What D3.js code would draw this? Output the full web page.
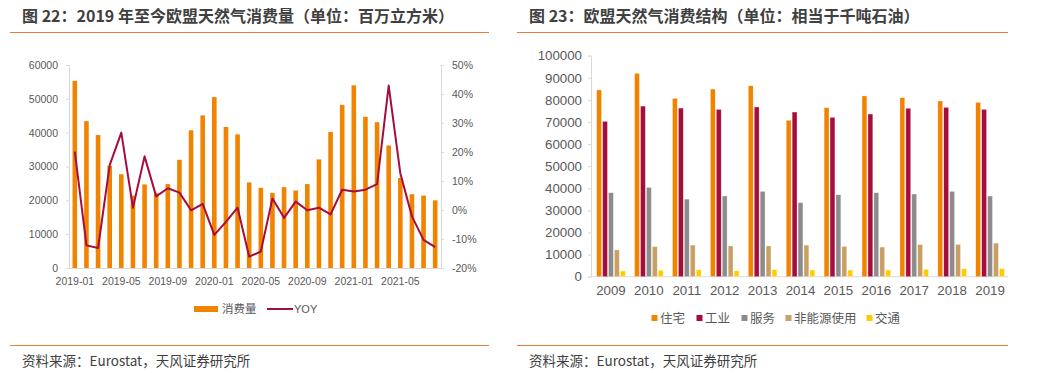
<!DOCTYPE html>
<html>
<head>
<meta charset="utf-8">
<script src="https://cdn.jsdelivr.net/npm/d3@7"></script>
<style>
  body { margin: 0; background: #fff; }
  text { font-family: "Liberation Sans", Arial, "Noto Sans CJK SC", sans-serif; }
  .cjk { font-family: "Noto Sans CJK SC", "Liberation Sans", sans-serif; }
</style>
</head>
<body>
<div id="chart"></div>
<script>
  // left chart data: monthly EU gas consumption and YoY
  var months = ["2019-01","2019-02","2019-03","2019-04","2019-05","2019-06","2019-07","2019-08",
                "2019-09","2019-10","2019-11","2019-12","2020-01","2020-02","2020-03","2020-04",
                "2020-05","2020-06","2020-07","2020-08","2020-09","2020-10","2020-11","2020-12",
                "2021-01","2021-02","2021-03","2021-04","2021-05","2021-06","2021-07","2021-08"];
  var consumption = [55300, 43400, 39300, 30200, 27700, 21400, 24700, 22100,
                     24800, 32000, 40700, 45100, 50500, 41700, 39500, 25300,
                     23700, 22200, 23900, 22900, 24800, 32100, 40200, 48200,
                     54000, 44700, 43100, 36200, 26600, 21800, 21400, 20000];
  var yoy = [20.1, -12.2, -13.1, 15.5, 26.7, 0.8, 18.5, 4.7,
             7.5, 6.0, -0.1, 2.1, -8.6, -4.1, 0.8, -16.1,
             -14.3, 4.0, -2.7, 2.9, -0.1, 0.8, -1.5, 7.0,
             6.4, 7.0, 8.9, 42.9, 12.7, -2.2, -10.3, -12.8];
  var leftTicks = [0, 10000, 20000, 30000, 40000, 50000, 60000];
  var rightTicks = [-20, -10, 0, 10, 20, 30, 40, 50];

  // right chart data: consumption structure by sector
  var years = ["2009","2010","2011","2012","2013","2014","2015","2016","2017","2018","2019"];
  var sectors = ["住宅", "工业", "服务", "非能源使用", "交通"];
  var residential = [84500, 92000, 80700, 84900, 86400, 70800, 76500, 81800, 81000, 79500, 78900];
  var industry    = [70300, 77200, 76300, 75700, 76800, 74500, 72100, 73600, 76200, 76600, 75700];
  var services    = [38000, 40400, 35100, 36500, 38600, 33500, 37100, 38000, 37400, 38600, 36500];
  var nonEnergy   = [12100, 13600, 14300, 13900, 13900, 14300, 13700, 13400, 14600, 14600, 15200];
  var transport   = [2600, 2900, 3200, 2700, 3200, 3000, 3000, 3000, 3300, 3600, 3600];
  var structTicks = [0, 10000, 20000, 30000, 40000, 50000, 60000, 70000, 80000, 90000, 100000];

  var orange = "#F08300", crimson = "#A50D3D";
  var sectorColors = [orange, crimson, "#8C8C8C", "#C9A063", "#FFCC00"];
  var tickColor = "#595959", axisColor = "#D9D9D9";
  var plain = d3.format("d");

  var svg = d3.select("#chart").append("svg")
    .attr("width", 1048)
    .attr("height", 373);

  // titles, rules and source lines
  var panels = [
    {x: 22, title: "图 22：2019 年至今欧盟天然气消费量（单位：百万立方米）", x1: 10, x2: 489},
    {x: 529, title: "图 23：欧盟天然气消费结构（单位：相当于千吨石油）", x1: 517, x2: 1008}
  ];
  panels.forEach(function(p) {
    svg.append("text").attr("class", "cjk")
      .attr("x", p.x).attr("y", 22)
      .attr("font-size", 16).attr("font-weight", "bold").attr("fill", "#404040")
      .text(p.title);
    svg.append("line").attr("x1", p.x1).attr("x2", p.x2).attr("y1", 32.5).attr("y2", 32.5)
      .attr("stroke", "#ED7D31").attr("stroke-width", 1);
    svg.append("line").attr("x1", p.x1).attr("x2", p.x2).attr("y1", 345.5).attr("y2", 345.5)
      .attr("stroke", "#ED7D31").attr("stroke-width", 1);
    svg.append("text").attr("class", "cjk")
      .attr("x", p.x).attr("y", 366)
      .attr("font-size", 13.5).attr("fill", "#404040")
      .text("资料来源：Eurostat，天风证券研究所");
  });

  // ---------- left chart ----------
  var x = d3.scaleBand().domain(months).range([69, 441]);
  var y = d3.scaleLinear().domain([0, 60000]).range([268, 65]);
  var y2 = d3.scaleLinear().domain([-20, 50]).range([268, 65]);

  var left = svg.append("g");

  var yAxisL = left.append("g")
    .attr("transform", "translate(69,0)")
    .call(d3.axisLeft(y).tickValues(leftTicks).tickSize(3).tickPadding(8).tickFormat(plain));
  var yAxisR = left.append("g")
    .attr("transform", "translate(441,0)")
    .call(d3.axisRight(y2).tickValues(rightTicks).tickSize(3).tickPadding(8)
      .tickFormat(function(d) { return d + "%"; }));
  var xAxisL = left.append("g")
    .attr("transform", "translate(0,268)")
    .call(d3.axisBottom(x).tickValues(months.filter(function(d, i) { return i % 4 === 0; }))
      .tickSize(0).tickPadding(10));
  [yAxisL, yAxisR, xAxisL].forEach(function(a) {
    a.select(".domain").attr("stroke", axisColor);
    a.selectAll(".tick line").attr("stroke", axisColor);
    a.selectAll("text").attr("fill", tickColor).attr("font-size", 10.5);
  });

  left.selectAll(".bar")
    .data(consumption)
    .enter()
    .append("rect")
      .attr("class", "bar")
      .attr("x", function(d, i) { return x(months[i]) + x.bandwidth() / 2 - 2.3; })
      .attr("y", function(d) { return y(d); })
      .attr("width", 4.6)
      .attr("height", function(d) { return 268 - y(d); })
      .attr("fill", orange);

  var line = d3.line()
    .x(function(d, i) { return x(months[i]) + x.bandwidth() / 2; })
    .y(function(d) { return y2(d); });
  left.append("path")
    .datum(yoy)
    .attr("d", line)
    .attr("fill", "none")
    .attr("stroke", crimson)
    .attr("stroke-width", 2)
    .attr("stroke-linejoin", "round");

  // left legend
  left.append("rect").attr("x", 194).attr("y", 306).attr("width", 24).attr("height", 6).attr("fill", orange);
  left.append("text").attr("class", "cjk").attr("x", 222).attr("y", 313)
    .attr("font-size", 11.5).attr("fill", tickColor).text("消费量");
  left.append("line").attr("x1", 267).attr("x2", 293).attr("y1", 309).attr("y2", 309)
    .attr("stroke", crimson).attr("stroke-width", 2);
  left.append("text").attr("x", 294).attr("y", 313)
    .attr("font-size", 11).attr("fill", tickColor).text("YOY");

  // ---------- right chart ----------
  var seriesValues = [residential, industry, services, nonEnergy, transport];
  var x0 = d3.scaleBand().domain(years).range([592, 1009]);
  var x1 = d3.scaleBand().domain(sectors).range([-14.3, 14.3]).paddingInner(0.18);
  var yS = d3.scaleLinear().domain([0, 100000]).range([276.7, 55.7]);

  var right = svg.append("g");

  var yAxisS = right.append("g")
    .attr("transform", "translate(591,0)")
    .call(d3.axisLeft(yS).tickValues(structTicks).tickSize(3).tickPadding(6).tickFormat(plain));
  var xAxisS = right.append("g")
    .attr("transform", "translate(0,276.7)")
    .call(d3.axisBottom(x0).tickSize(0).tickPadding(9));
  yAxisS.select(".domain").attr("stroke", axisColor);
  yAxisS.selectAll(".tick line").attr("stroke", axisColor);
  xAxisS.select(".domain").attr("stroke", axisColor).attr("d", "M591,0H1008");
  [yAxisS, xAxisS].forEach(function(a) {
    a.selectAll("text").attr("fill", tickColor).attr("font-size", 13.3);
  });

  var groups = right.selectAll(".grp")
    .data(years)
    .enter()
    .append("g")
      .attr("class", "grp")
      .attr("transform", function(d) { return "translate(" + (x0(d) + x0.bandwidth() / 2) + ",0)"; });

  groups.selectAll("rect")
    .data(function(d, yi) { return sectors.map(function(s, si) { return {s: s, si: si, v: seriesValues[si][yi]}; }); })
    .enter()
    .append("rect")
      .attr("x", function(d) { return x1(d.s); })
      .attr("y", function(d) { return yS(d.v); })
      .attr("width", x1.bandwidth())
      .attr("height", function(d) { return 276.7 - yS(d.v); })
      .attr("fill", function(d) { return sectorColors[d.si]; })
      .attr("stroke", "#fff")
      .attr("stroke-opacity", 0.6)
      .attr("stroke-width", 0.5);

  // right legend
  var legendX = [651.5, 696.5, 741.5, 785.5, 866.5];
  sectors.forEach(function(s, i) {
    right.append("rect").attr("x", legendX[i]).attr("y", 315).attr("width", 6).attr("height", 6)
      .attr("fill", sectorColors[i]);
    right.append("text").attr("class", "cjk").attr("x", legendX[i] + 8.5).attr("y", 322.5)
      .attr("font-size", 12.5).attr("fill", tickColor).text(s);
  });
</script>
</body>
</html>
